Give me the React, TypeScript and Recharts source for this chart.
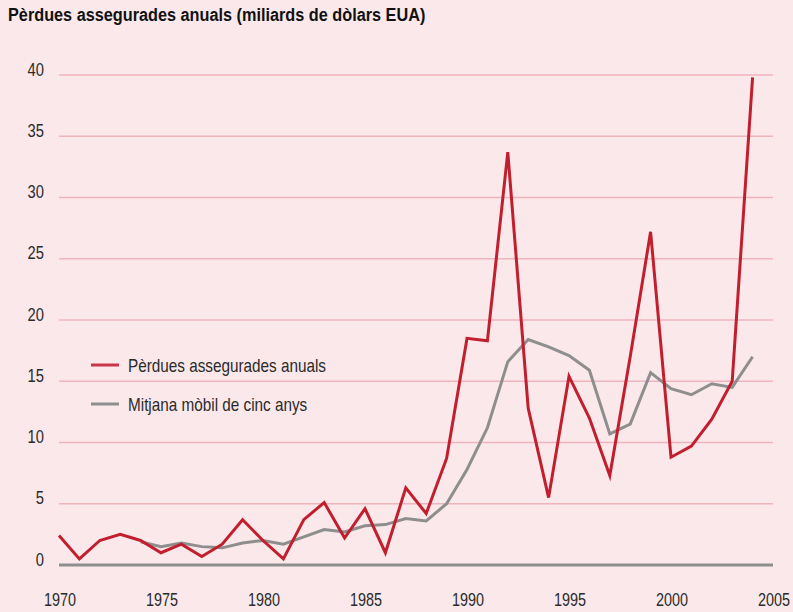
import React from "react";
import { LineChart, Line, XAxis, YAxis, CartesianGrid, ReferenceLine } from "recharts";

const years = [1970,1971,1972,1973,1974,1975,1976,1977,1978,1979,1980,1981,1982,1983,1984,1985,1986,1987,1988,1989,1990,1991,1992,1993,1994,1995,1996,1997,1998,1999,2000,2001,2002,2003,2004];
const annualLosses = [2.4,0.5,2.0,2.5,2.0,1.0,1.7,0.7,1.7,3.7,2.0,0.5,3.7,5.1,2.2,4.6,1.0,6.3,4.2,8.7,18.5,18.3,33.7,12.8,5.5,15.4,12.0,7.3,17.0,27.2,8.8,9.7,11.9,15.0,39.8];
const movingAvg = [null,null,null,null,1.9,1.5,1.8,1.5,1.4,1.8,2.0,1.7,2.3,2.9,2.7,3.2,3.3,3.8,3.6,5.0,7.8,11.2,16.6,18.4,17.8,17.1,15.9,10.7,11.5,15.7,14.4,13.9,14.8,14.5,17.0];
const xTicks = [1970,1975,1980,1985,1990,1995,2000,2005];
const yTicks = [0,5,10,15,20,25,30,35,40];
const seriesNames = ["Pèrdues assegurades anuals", "Mitjana mòbil de cinc anys"];
const title = "Pèrdues assegurades anuals (miliards de dòlars EUA)";

const data = years.map((y, i) => ({ year: y, losses: annualLosses[i], avg: movingAvg[i] }));

const FONT = "'Liberation Sans', Arial, sans-serif";
const RED = "#C21F2E";
const GREY = "#8E8E8E";
const GRID = "#F0B4BD";
const BG = "#FAE8EA";
const TXT = "#2b2b2b";

const YTick = (props: any) => {
  const { x, y, payload } = props;
  return (
    <g transform={`translate(${x},${y - 6})`}>
      <text transform="scale(0.82,1)" x={0} y={6.5} textAnchor="end" fontFamily={FONT} fontSize={18} fill={TXT}>
        {payload.value}
      </text>
    </g>
  );
};

const XTick = (props: any) => {
  const { x, y, payload } = props;
  return (
    <g transform={`translate(${x + 1},${y + 41})`}>
      <text transform="scale(0.8,1)" x={0} y={0} textAnchor="middle" fontFamily={FONT} fontSize={18} fill={TXT}>
        {payload.value}
      </text>
    </g>
  );
};

export default function App() {
  return (
    <div style={{ position: "fixed", left: 0, top: 0, width: 793, height: 612, background: BG }}>
      <LineChart width={793} height={612} data={data} margin={{ top: 75, right: 20, bottom: 0, left: 0 }}>
        <CartesianGrid horizontal={true} vertical={false} stroke={GRID} strokeWidth={1.5} />
        <XAxis dataKey="year" type="number" domain={[1970, 2005]} ticks={xTicks} axisLine={false} tickLine={false} tick={<XTick />} interval={0} height={47} tickSize={0} tickMargin={0} />
        <YAxis type="number" domain={[0, 40]} ticks={yTicks} axisLine={false} tickLine={false} tick={<YTick />} width={59} tickSize={0} tickMargin={15} interval={0} />
        <ReferenceLine y={0} stroke={GREY} strokeWidth={3} />
        <Line type="linear" dataKey="avg" name={seriesNames[1]} stroke={GREY} strokeWidth={3} dot={false} isAnimationActive={false} />
        <Line type="linear" dataKey="losses" name={seriesNames[0]} stroke={RED} strokeWidth={3} dot={false} isAnimationActive={false} />
      </LineChart>
      <svg width={793} height={612} style={{ position: "absolute", left: 0, top: 0, pointerEvents: "none" }}>
        <g transform="translate(8,20.7)">
          <text transform="scale(0.93,1)" fontFamily={FONT} fontWeight="bold" fontSize={17.5} fill="#111">{title}</text>
        </g>
        <line x1={91} x2={119} y1={365} y2={365} stroke="#C8374A" strokeWidth={3} />
        <g transform="translate(128,371.5)">
          <text transform="scale(0.85,1)" fontFamily={FONT} fontSize={18} fill={TXT}>{seriesNames[0]}</text>
        </g>
        <line x1={91} x2={119} y1={404} y2={404} stroke={GREY} strokeWidth={3} />
        <g transform="translate(128,411)">
          <text transform="scale(0.85,1)" fontFamily={FONT} fontSize={18} fill={TXT}>{seriesNames[1]}</text>
        </g>
      </svg>
    </div>
  );
}
